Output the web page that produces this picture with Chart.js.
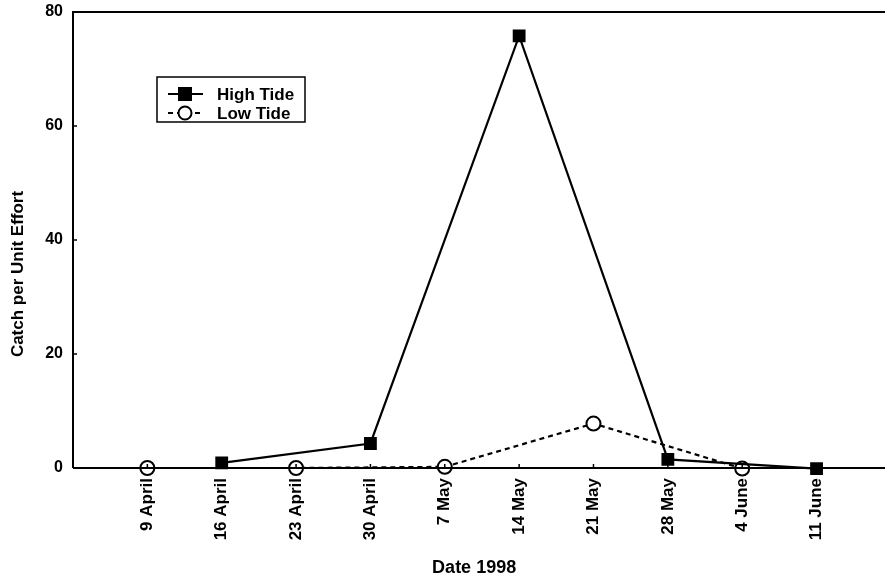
<!DOCTYPE html>
<html>
<head>
<meta charset="utf-8">
<script src="https://cdn.jsdelivr.net/npm/chart.js@4.4.0/dist/chart.umd.min.js"></script>
<style>
  html, body { margin: 0; padding: 0; background: #fff; overflow: hidden; }
</style>
</head>
<body>
<canvas id="catchChart" width="885" height="582"></canvas>
<script>
// Sampling dates (x positions 1..10)
const dates = ['9 April', '16 April', '23 April', '30 April', '7 May', '14 May', '21 May', '28 May', '4 June', '11 June'];

// High tide sampled on alternate weeks
const highTideIdx = [2, 4, 6, 8, 10];
const highTideCpue = [0.9, 4.3, 75.8, 1.5, -0.1];

// Low tide sampled on the other weeks
const lowTideIdx = [1, 3, 5, 7, 9];
const lowTideCpue = [0, 0, 0.2, 7.8, -0.1];

const yTicks = [0, 20, 40, 60, 80];

const FONT = '"Liberation Sans", Arial, Helvetica, sans-serif';

function toPoints(xs, ys) {
    return xs.map((x, i) => ({ x: x, y: ys[i] }));
}

// Frame, inner tick marks, y title and legend box
const decorPlugin = {
    id: 'decor',
    afterDraw(chart) {
        const ctx = chart.ctx;
        const a = chart.chartArea;
        const xs = chart.scales.x;
        const ys = chart.scales.y;
        ctx.save();
        ctx.strokeStyle = '#000';
        ctx.lineWidth = 2;
        ctx.beginPath();
        ctx.moveTo(a.left, a.bottom);
        ctx.lineTo(a.left, a.top);
        ctx.lineTo(chart.width, a.top);
        ctx.moveTo(a.left, a.bottom);
        ctx.lineTo(chart.width, a.bottom);
        ctx.stroke();

        // small inward ticks
        ctx.lineWidth = 1.5;
        ctx.beginPath();
        yTicks.forEach(v => {
            const py = ys.getPixelForValue(v);
            ctx.moveTo(a.left, py);
            ctx.lineTo(a.left + 4, py);
        });
        dates.forEach((d, i) => {
            const px = xs.getPixelForValue(i + 1);
            ctx.moveTo(px, a.bottom);
            ctx.lineTo(px, a.bottom - 4);
        });
        ctx.stroke();

        // y axis title
        ctx.fillStyle = '#000';
        ctx.font = 'bold 17px ' + FONT;
        ctx.textAlign = 'center';
        ctx.textBaseline = 'middle';
        ctx.translate(18, 274);
        ctx.rotate(-Math.PI / 2);
        ctx.fillText('Catch per Unit Effort', 0, 0);
        ctx.restore();

        // legend
        ctx.save();
        ctx.strokeStyle = '#000';
        ctx.lineWidth = 1.5;
        ctx.strokeRect(157, 77, 148, 45);
        ctx.font = 'bold 17px ' + FONT;
        ctx.fillStyle = '#000';
        ctx.textAlign = 'left';
        ctx.textBaseline = 'middle';
        chart.data.datasets.forEach((ds, i) => {
            const ly = 94 + i * 19;
            ctx.lineWidth = 2;
            ctx.setLineDash(ds.borderDash || []);
            ctx.beginPath();
            ctx.moveTo(168, ly);
            ctx.lineTo(203, ly);
            ctx.stroke();
            ctx.setLineDash([]);
            if (ds.pointStyle === 'rect') {
                ctx.fillRect(185 - 7, ly - 7, 14, 14);
            } else {
                ctx.beginPath();
                ctx.arc(185, ly, 6.5, 0, Math.PI * 2);
                ctx.fillStyle = '#fff';
                ctx.fill();
                ctx.stroke();
                ctx.fillStyle = '#000';
            }
            ctx.fillText(ds.label, 217, ly + 1);
        });
        ctx.restore();
    }
};

const chart = new Chart(document.getElementById('catchChart'), {
    type: 'line',
    data: {
        datasets: [{
            label: 'High Tide',
            data: toPoints(highTideIdx, highTideCpue),
            borderColor: '#000',
            borderWidth: 2.2,
            pointStyle: 'rect',
            pointRadius: 7.5,
            pointBackgroundColor: '#000',
            pointBorderColor: '#000',
            tension: 0
        }, {
            label: 'Low Tide',
            data: toPoints(lowTideIdx, lowTideCpue),
            borderColor: '#000',
            borderWidth: 2.2,
            borderDash: [5, 4],
            pointStyle: 'circle',
            pointRadius: 7,
            pointBorderWidth: 2,
            pointBackgroundColor: '#fff',
            pointBorderColor: '#000',
            tension: 0
        }]
    },
    options: {
        responsive: false,
        animation: false,
        clip: false,
        layout: { padding: { left: 0, top: 12, right: 0, bottom: 0 } },
        plugins: {
            legend: { display: false },
            tooltip: { enabled: false }
        },
        scales: {
            x: {
                type: 'linear',
                min: 0,
                max: 10.79,
                afterBuildTicks: function(scale) {
                    scale.ticks = dates.map((d, i) => ({ value: i + 1 }));
                },
                afterFit: function(scale) {
                    scale.height = 114;
                    scale.paddingLeft = 0;
                    scale.paddingRight = 0;
                },
                grid: { display: false, tickLength: 0 },
                border: { display: false },
                ticks: {
                    autoSkip: false,
                    minRotation: 90,
                    maxRotation: 90,
                    padding: 10,
                    color: '#000',
                    font: { family: FONT, size: 17, weight: 'bold' },
                    callback: function(value) {
                        return dates[value - 1];
                    }
                },
                title: {
                    display: true,
                    text: 'Date 1998',
                    color: '#000',
                    font: { family: FONT, size: 18, weight: 'bold' },
                    padding: { top: 0, bottom: 3 }
                }
            },
            y: {
                min: 0,
                max: 80,
                afterBuildTicks: function(scale) {
                    scale.ticks = yTicks.map(v => ({ value: v }));
                },
                afterFit: function(scale) {
                    scale.width = 73;
                    scale.paddingTop = 0;
                    scale.paddingBottom = 0;
                },
                grid: { display: false, tickLength: 0 },
                border: { display: false },
                ticks: {
                    padding: 10,
                    color: '#000',
                    font: { family: FONT, size: 16, weight: 'bold' }
                }
            }
        }
    },
    plugins: [decorPlugin]
});
</script>
</body>
</html>
